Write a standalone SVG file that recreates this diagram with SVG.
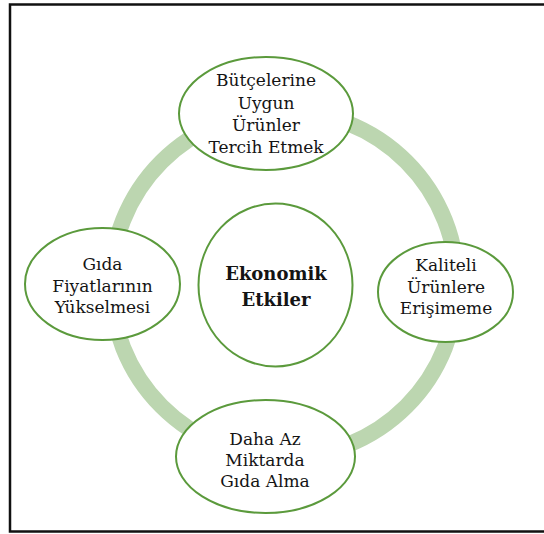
<svg xmlns="http://www.w3.org/2000/svg" width="544" height="534" viewBox="0 0 544 534">
<style>
.node{fill:#ffffff;stroke:#5b9a3c;stroke-width:2}
.t{font-size:17px;fill:#141414;text-anchor:middle}
.b{font-weight:bold;font-size:18px}
</style>
<rect x="10" y="4.5" width="540" height="527" fill="#ffffff" stroke="#111111" stroke-width="2.5"/>
<g id="connectors">
<circle cx="284" cy="284" r="173" fill="none" stroke="#bcd6b0" stroke-width="16"/>
</g>
<g font-family="'DejaVu Serif', serif">
<g id="node-top">
<ellipse class="node" cx="266" cy="113.5" rx="87" ry="56.5"/>
<text class="t" x="266" y="86">Bütçelerine</text>
<text class="t" x="266" y="108.5">Uygun</text>
<text class="t" x="266" y="131">Ürünler</text>
<text class="t" x="266" y="153">Tercih Etmek</text>
</g>
<g id="node-left">
<ellipse class="node" cx="102.5" cy="284" rx="77.5" ry="56"/>
<text class="t" x="102.5" y="270">Gıda</text>
<text class="t" x="102.5" y="291.5">Fiyatlarının</text>
<text class="t" x="102.5" y="313">Yükselmesi</text>
</g>
<g id="node-center">
<ellipse class="node" cx="275.5" cy="285" rx="77" ry="81.5"/>
<text class="t b" x="276" y="280">Ekonomik</text>
<text class="t b" x="276" y="306">Etkiler</text>
</g>
<g id="node-right">
<ellipse class="node" cx="445.5" cy="292" rx="67.5" ry="50"/>
<text class="t" x="446" y="270.5">Kaliteli</text>
<text class="t" x="446" y="292.5">Ürünlere</text>
<text class="t" x="446" y="314">Erişimeme</text>
</g>
<g id="node-bottom">
<ellipse class="node" cx="265.5" cy="456.5" rx="89.5" ry="56.5"/>
<text class="t" x="265" y="445">Daha Az</text>
<text class="t" x="265" y="466">Miktarda</text>
<text class="t" x="265" y="487">Gıda Alma</text>
</g>
</g>
</svg>
